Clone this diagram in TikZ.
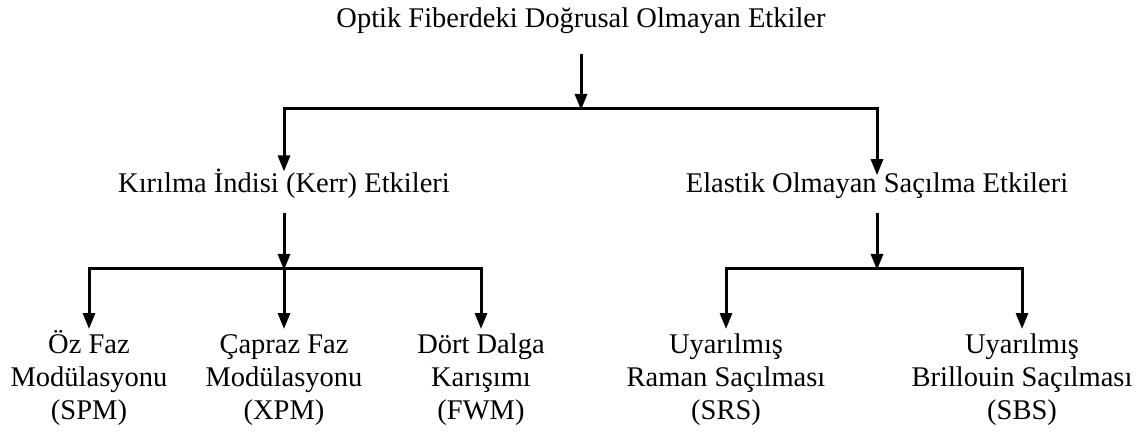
\documentclass[tikz,border=0pt]{standalone}
\usepackage{fontspec}
\setmainfont{Liberation Serif}
\usetikzlibrary{arrows.meta}
\newcommand\tstrut{\rule[-7pt]{0pt}{25pt}}
\newcommand\hstrut{\rule{0pt}{25pt}}
\tikzset{
  lbl/.style={inner sep=0pt, outer sep=0pt, font=\fontsize{28.5}{33}\selectfont, align=center},
  arr/.style={line width=3pt, -{Triangle[length=16pt,width=12pt]}},
  bar/.style={line width=3pt, line cap=rect}
}
\begin{document}
\begin{tikzpicture}[x=1pt,y=-1pt]
\useasboundingbox (0,0) rectangle (1147,435);
% nodes
\node[lbl, anchor=base] (top) at (581,28) {\tstrut Optik Fiberdeki Doğrusal Olmayan Etkiler};
\node[lbl, anchor=base] (kerr) at (284,193) {\tstrut Kırılma İndisi (Kerr) Etkileri};
\node[lbl, anchor=base] (inel) at (877,193) {\tstrut Elastik Olmayan Saçılma Etkileri};
\node[lbl, anchor=north] (spm) at (89,328) {\hstrut Öz Faz\\Modülasyonu\\(SPM)};
\node[lbl, anchor=north] (xpm) at (284,328) {\hstrut Çapraz Faz\\Modülasyonu\\(XPM)};
\node[lbl, anchor=north] (fwm) at (481,328) {\hstrut Dört Dalga\\Karışımı\\(FWM)};
\node[lbl, anchor=north] (srs) at (726,328) {\hstrut Uyarılmış\\Raman Saçılması\\(SRS)};
\node[lbl, anchor=north] (sbs) at (1022,328) {\hstrut Uyarılmış\\Brillouin Saçılması\\(SBS)};
% junctions
\coordinate (j1) at (top.south |- 0,109);
\coordinate (j1l) at (kerr.north |- 0,109);
\coordinate (j1r) at (inel.north |- 0,109);
\coordinate (j2) at (kerr.south |- 0,269);
\coordinate (j2l) at (spm.north |- 0,269);
\coordinate (j2r) at (fwm.north |- 0,269);
\coordinate (j3) at (inel.south |- 0,269);
\coordinate (j3l) at (srs.north |- 0,269);
\coordinate (j3r) at (sbs.north |- 0,269);
% connectors
\draw[arr, shorten <=19pt] (top.south) -- ([yshift=-1pt]j1);
\draw[bar] (j1l) -- (j1r);
\draw[arr] (j1l) -- ([yshift=-2pt]kerr.north);
\draw[arr] (j1r) -- ([yshift=-2pt]inel.north);
\draw[arr, shorten <=13pt] (kerr.south) -- ([yshift=-1pt]j2);
\draw[arr, shorten <=13pt] (inel.south) -- ([yshift=-1pt]j3);
\draw[bar] (j2l) -- (j2r);
\draw[bar] (j3l) -- (j3r);
\draw[arr] (j2l) -- ([yshift=-1pt]spm.north);
\draw[arr] (j2) -- ([yshift=-1pt]xpm.north);
\draw[arr] (j2r) -- ([yshift=-1pt]fwm.north);
\draw[arr] (j3l) -- ([yshift=-1pt]srs.north);
\draw[arr] (j3r) -- ([yshift=-1pt]sbs.north);
\end{tikzpicture}
\end{document}
